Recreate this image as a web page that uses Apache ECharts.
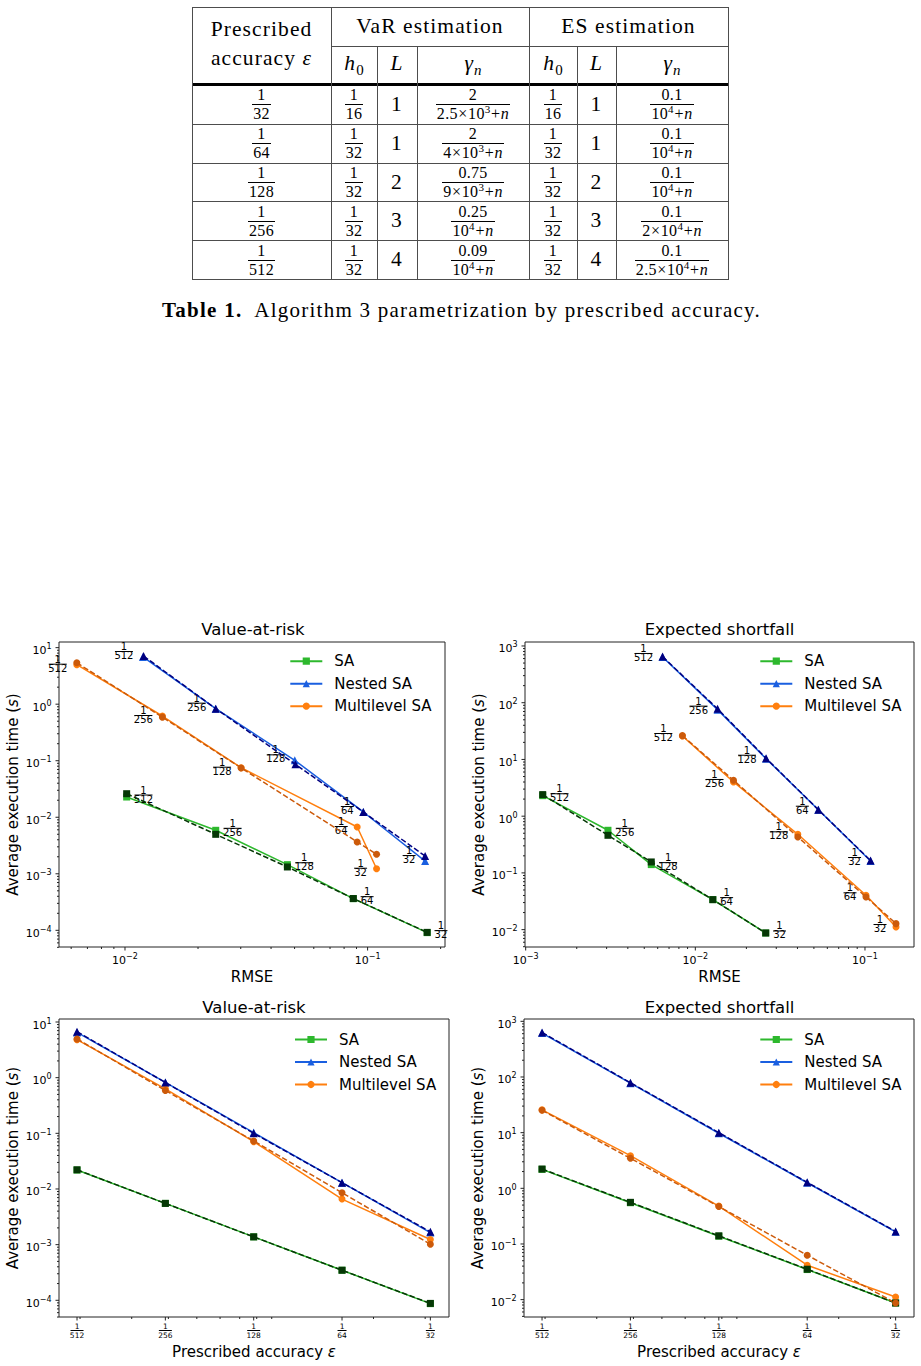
<!DOCTYPE html>
<html><head><meta charset="utf-8">
<script src="https://cdn.jsdelivr.net/npm/echarts@6/dist/echarts.min.js"></script>
<style>
html,body{margin:0;padding:0;background:#fff;width:921px;height:1366px;overflow:hidden}
#chart{position:absolute;left:0;top:0;width:921px;height:1366px}
#tbl{position:absolute;left:0;top:0;width:921px;height:340px;font-family:'Liberation Serif','Times New Roman',serif;color:#000}
.cell{position:absolute;display:flex;align-items:center;justify-content:center;text-align:center;font-size:21.5px;letter-spacing:1.1px;line-height:1}
.in{display:inline-block;text-align:center}
.ln{position:absolute;background:#4d4d4d}
.fr{display:inline-flex;flex-direction:column;align-items:center;font-size:16px;line-height:1;letter-spacing:0.3px;vertical-align:middle}
.fr .num{padding:0 1px 1px}
.fr .den{border-top:1px solid #000;padding:1px 1px 0}
.fr sup{font-size:11px;line-height:0;vertical-align:6px}
.op{margin:0 0.5px}
i{font-style:italic}
.sub{font-size:15px;position:relative;top:5px;letter-spacing:0}
#cap{position:absolute;left:162px;top:298px;font-size:21px;white-space:nowrap;letter-spacing:1.25px}
</style>
</head><body>
<div id="chart"></div>
<div id="tbl"></div>
<script>
// ---------------- TABLE DATA ----------------
const tableAccuracy = ['1/32','1/64','1/128','1/256','1/512'];
const varH0 = ['1/16','1/32','1/32','1/32','1/32'];
const varL = ['1','1','2','3','4'];
const varGammaNum = ['2','2','0.75','0.25','0.09'];
const varGammaDen = ['2.5×10^3+n','4×10^3+n','9×10^3+n','10^4+n','10^4+n'];
const esH0 = ['1/16','1/32','1/32','1/32','1/32'];
const esL = ['1','1','2','3','4'];
const esGammaNum = ['0.1','0.1','0.1','0.1','0.1'];
const esGammaDen = ['10^4+n','10^4+n','10^4+n','2×10^4+n','2.5×10^4+n'];

// ---------------- CHART DATA ----------------
const epsDen = [512, 256, 128, 64, 32];
const epsValues = [1/512, 1/256, 1/128, 1/64, 1/32];
const legendNames = ['SA', 'Nested SA', 'Multilevel SA'];

// Value-at-risk vs RMSE
const varRmseSA = [0.01016, 0.02366, 0.0467, 0.0873, 0.176];
const varTimeSA = [0.0228, 0.00588, 0.00145, 0.000363, 0.0000910];
const varTimeSADashed = [0.0261, 0.00499, 0.00132, 0.000365, 0.0000920];
const varRmseNested = [0.01186, 0.02366, 0.0501, 0.0960, 0.1726];
const varRmseNestedDashed = [0.01193, 0.02366, 0.0504, 0.0960, 0.1726];
const varTimeNested = [6.84, 0.834, 0.1016, 0.0124, 0.00168];
const varTimeNestedDashed = [7.1, 0.834, 0.0863, 0.0124, 0.00206];
const varRmseML = [0.00633, 0.01426, 0.0301, 0.0906, 0.1089];
const varTimeML = [5.0, 0.618, 0.0753, 0.00673, 0.00123];
const varTimeMLDashed = [5.4, 0.59, 0.0745, 0.00366, 0.00221];

// Expected shortfall vs RMSE
const esRmseSA = [0.00126, 0.003055, 0.0055, 0.01268, 0.0260];
const esTimeSA = [2.30, 0.564, 0.140, 0.0338, 0.00873];
const esTimeSADashed = [2.4, 0.460, 0.156, 0.0338, 0.00873];
const esRmseNested = [0.00641, 0.01352, 0.02612, 0.0531, 0.1079];
const esTimeNested = [640, 75.5, 10.3, 1.30, 0.162];
const esTimeNestedDashed = [650, 78, 10.5, 1.30, 0.165];
const esRmseML = [0.00839, 0.01679, 0.0402, 0.1014, 0.1524];
const esTimeML = [25.9, 4.01, 0.479, 0.0403, 0.01114];
const esTimeMLDashed = [26.3, 4.29, 0.430, 0.0377, 0.01276];

// Value-at-risk vs prescribed accuracy
const varEpsSA = [0.0219, 0.00551, 0.00138, 0.000347, 0.0000871];
const varEpsSADashed = [0.0221, 0.00551, 0.00138, 0.000347, 0.0000880];
const varEpsNested = [6.5, 0.82, 0.103, 0.013, 0.00165];
const varEpsNestedDashed = [6.7, 0.82, 0.100, 0.013, 0.00170];
const varEpsML = [4.81, 0.63, 0.071, 0.00659, 0.00124];
const varEpsMLDashed = [4.95, 0.589, 0.073, 0.00857, 0.00102];

// Expected shortfall vs prescribed accuracy
const esEpsSA = [2.19, 0.551, 0.138, 0.0347, 0.0087];
const esEpsSADashed = [2.22, 0.56, 0.140, 0.0352, 0.0087];
const esEpsNested = [616, 77.6, 9.75, 1.26, 0.165];
const esEpsNestedDashed = [630, 79, 10.0, 1.28, 0.168];
const esEpsML = [25.7, 3.86, 0.48, 0.0415, 0.01117];
const esEpsMLDashed = [25.2, 3.46, 0.47, 0.0628, 0.0087];

// ---------------- BUILD TABLE ----------------
(function buildTable() {
  const root = document.getElementById('tbl');
  const colX = [192, 331, 377, 417, 529, 577, 616, 728];
  const rowY = [7, 46, 84.5, 124, 162.5, 201, 240, 279];
  function line(x, y, w, h, color) {
    const d = document.createElement('div'); d.className = 'ln';
    d.style.left = x + 'px'; d.style.top = y + 'px'; d.style.width = w + 'px'; d.style.height = h + 'px';
    if (color) d.style.background = color;
    root.appendChild(d);
  }
  function cell(x0, x1, y0, y1, html) {
    const d = document.createElement('div'); d.className = 'cell';
    d.style.left = x0 + 'px'; d.style.top = y0 + 'px'; d.style.width = (x1 - x0) + 'px'; d.style.height = (y1 - y0) + 'px';
    d.innerHTML = '<span class="in">' + html + '</span>'; root.appendChild(d);
    return d;
  }
  function mathDen(s) {
    return s.replace(/\^(\d)/g, '<sup>$1</sup>').replace(/n/g, '<i>n</i>')
            .replace(/×/g, '<span class="op">×</span>').replace(/\+/g, '<span class="op">+</span>');
  }
  function frac(num, den) {
    return '<span class="fr"><span class="num">' + num + '</span><span class="den">' + den + '</span></span>';
  }
  function simpleFrac(s) { const p = s.split('/'); return frac(p[0], p[1]); }
  // lines
  const W = colX[7] - colX[0];
  line(colX[0], rowY[0], W + 1, 1);
  line(colX[0], rowY[7], W + 1, 1);
  line(colX[1], rowY[1], colX[7] - colX[1], 1);
  line(colX[0], rowY[2] - 1.5, W + 1, 3, '#000');
  for (let r = 3; r < 7; r++) line(colX[0], rowY[r], W, 1);
  line(colX[0], rowY[0], 1, rowY[7] - rowY[0]);
  line(colX[7], rowY[0], 1, rowY[7] - rowY[0] + 1);
  line(colX[1], rowY[0], 1, rowY[7] - rowY[0]);
  line(colX[4], rowY[0], 1, rowY[7] - rowY[0]);
  [2, 3, 5, 6].forEach(c => line(colX[c], rowY[1], 1, rowY[7] - rowY[1]));
  // header
  const h = cell(colX[0], colX[1], rowY[0] + 2, rowY[2] - 6, 'Prescribed<br>accuracy&nbsp;<i>ε</i>');
  h.style.lineHeight = '29px';
  cell(colX[1], colX[4], rowY[0], rowY[1], 'VaR estimation');
  cell(colX[4], colX[7], rowY[0], rowY[1], 'ES estimation');
  const sub = ['<i>h</i><span class="sub">0</span>', '<i>L</i>', '<i>γ</i><span class="sub"><i>n</i></span>'];
  [1, 2, 3, 4, 5, 6].forEach((c, k) => cell(colX[c], colX[c + 1], rowY[1] + 1, rowY[2] - 4, sub[k % 3]));
  // rows
  for (let r = 0; r < 5; r++) {
    const y0 = rowY[r + 2] + 1, y1 = rowY[r + 3];
    cell(colX[0], colX[1], y0, y1, simpleFrac(tableAccuracy[r]));
    cell(colX[1], colX[2], y0, y1, simpleFrac(varH0[r]));
    cell(colX[2], colX[3], y0, y1, varL[r]);
    cell(colX[3], colX[4], y0, y1, frac(varGammaNum[r], mathDen(varGammaDen[r])));
    cell(colX[4], colX[5], y0, y1, simpleFrac(esH0[r]));
    cell(colX[5], colX[6], y0, y1, esL[r]);
    cell(colX[6], colX[7], y0, y1, frac(esGammaNum[r], mathDen(esGammaDen[r])));
  }
  const cap = document.createElement('div'); cap.id = 'cap';
  cap.innerHTML = '<b>Table 1.</b>&nbsp; Algorithm 3 parametrization by prescribed accuracy.';
  root.appendChild(cap);
})();

// ---------------- CHART ----------------
const FONT = 'DejaVu Sans';
const C_SA = '#2db82d', C_SA_D = '#063806';
const C_NE = '#1a5fe0', C_NE_D = '#000080';
const C_ML = '#ff7f0e', C_ML_D = '#cc5a0a';

function fracText(den) {
  return '{n|1}\n{b' + String(den).length + '| }\n{d|' + den + '}';
}
function fracRich(fs, lhn, lhd, w2, w3) {
  const bar = w => ({ width: w, height: 1, lineHeight: 2, fontSize: 1, backgroundColor: '#000', align: 'center' });
  return {
    n: { fontSize: fs, lineHeight: lhn, fontFamily: FONT, color: '#000', align: 'center' },
    d: { fontSize: fs, lineHeight: lhd, fontFamily: FONT, color: '#000', align: 'center' },
    b2: bar(w2), b3: bar(w3)
  };
}
function annot(side, dy) {
  return {
    show: true, position: 'inside',
    offset: side === 'left' ? [-9.5, dy] : [7.3, dy],
    align: side === 'left' ? 'right' : 'left',
    verticalAlign: 'middle',
    formatter: p => fracText(epsDen[p.dataIndex]),
    rich: fracRich(10, 8, 6, 13, 18)
  };
}
function powLabel(v) {
  const e = Math.log10(v), r = Math.round(e);
  if (Math.abs(e - r) > 1e-6) return '';
  return '{b|10}{s|' + (r < 0 ? '\u2212' + (-r) : r) + '}';
}
function epsLabel(v) {
  const e = Math.log2(v), r = Math.round(e);
  if (Math.abs(e - r) > 1e-6) return '';
  return fracText(Math.round(1 / v));
}
const yLabelRich = { b: { fontSize: 11, fontFamily: FONT, color: '#000', padding: [6, 0, 0, 0] }, s: { fontSize: 8, fontFamily: FONT, color: '#000', padding: [0, 0, 2, 0] } };
const xLabelRich = { b: { fontSize: 11, fontFamily: FONT, color: '#000', padding: [4, 0, 0, 0] }, s: { fontSize: 8, fontFamily: FONT, color: '#000', padding: [0, 0, 3.4, 0] } };

const grids = [
  { left: 59, top: 642, width: 386, height: 305 },
  { left: 525, top: 642, width: 389, height: 305 },
  { left: 59, top: 1019, width: 390, height: 298 },
  { left: 524, top: 1019, width: 390, height: 298 }
];
const xExt = [[-2.272, -0.681], [-3.004, -0.711], [-9.204, -4.789], [-9.204, -4.792]];
const yExt = [[-4.295, 1.100], [-2.306, 3.070], [-4.300, 1.054], [-2.312, 3.042]];

function xAxis(i) {
  const base = i < 2 ? 10 : 2;
  const ax = {
    type: 'log', logBase: base, gridIndex: i,
    min: Math.pow(base, xExt[i][0]), max: Math.pow(base, xExt[i][1]),
    axisLine: { show: false }, axisTick: { show: false }, splitLine: { show: false }, minorSplitLine: { show: false },
    nameLocation: 'middle',
    nameTextStyle: { fontSize: 15, fontFamily: FONT, color: '#000', rich: { i: { fontStyle: 'italic', fontSize: 15, fontFamily: FONT } } }
  };
  if (i < 2) {
    ax.name = 'RMSE'; ax.nameGap = 22.5;
    ax.axisLabel = { margin: 4, formatter: powLabel, rich: xLabelRich, hideOverlap: false, showMinLabel: true, showMaxLabel: true };
  } else {
    ax.name = 'Prescribed accuracy {i|ε}'; ax.nameGap = 27.5;
    ax.axisLabel = { margin: 5.5, formatter: epsLabel, rich: fracRich(7.5, 7, 7, 9, 13), hideOverlap: false };
  }
  return ax;
}
function yAxis(i) {
  return {
    type: 'log', logBase: 10, gridIndex: i,
    min: Math.pow(10, yExt[i][0]), max: Math.pow(10, yExt[i][1]),
    axisLine: { show: false }, axisTick: { show: false }, splitLine: { show: false },
    axisLabel: { margin: 7.5, formatter: powLabel, rich: yLabelRich, hideOverlap: false },
    name: 'Average execution time ({i|s})', nameLocation: 'middle', nameGap: 38.5,
    nameTextStyle: { fontSize: 15, fontFamily: FONT, color: '#000', rich: { i: { fontStyle: 'italic', fontSize: 15, fontFamily: FONT } } }
  };
}

function zip(xs, ys) { return xs.map((x, k) => [x, ys[k]]); }
function lineSeries(i, name, xs, ys, color, symbol, size, dashed, label) {
  return {
    type: 'line', name: name, xAxisIndex: i, yAxisIndex: i,
    data: zip(xs, ys), symbol: symbol, symbolSize: size, showAllSymbol: true,
    lineStyle: { color: color, width: 1.5, type: dashed ? [5.5, 2.4] : 'solid' },
    itemStyle: { color: color, borderWidth: 0 },
    label: label || { show: false },
    emphasis: { disabled: true }, z: dashed ? 3 : 2, clip: true
  };
}

// tick values (axis decoration)
const majorPow = []; const minorPow = [];
for (let k = -6; k <= 4; k++) {
  majorPow.push(Math.pow(10, k));
  for (let m = 2; m <= 9; m++) minorPow.push(m * Math.pow(10, k));
}
function tickSeries(i, dim, values, len) {
  const xr = Math.pow(i < 2 ? 10 : 2, (xExt[i][0] + xExt[i][1]) / 2);
  const yr = Math.pow(10, (yExt[i][0] + yExt[i][1]) / 2);
  return {
    type: 'custom', xAxisIndex: i, yAxisIndex: i, silent: true, clip: false, z: 6,
    data: values.map(v => dim === 'y' ? [xr, v] : [v, yr]),
    renderItem: function (params, api) {
      const cs = params.coordSys;
      const pt = api.coord([api.value(0), api.value(1)]);
      if (dim === 'y') {
        const y = pt[1];
        if (y < cs.y - 0.6 || y > cs.y + cs.height + 0.6) return { type: 'group', children: [] };
        return { type: 'line', shape: { x1: cs.x, y1: y, x2: cs.x - len, y2: y }, style: { stroke: '#222', lineWidth: 1 } };
      } else {
        const x = pt[0];
        if (x < cs.x - 0.6 || x > cs.x + cs.width + 0.6) return { type: 'group', children: [] };
        const yb = cs.y + cs.height;
        return { type: 'line', shape: { x1: x, y1: yb, x2: x, y2: yb + len }, style: { stroke: '#222', lineWidth: 1 } };
      }
    }
  };
}

const series = [];
// panel 0
series.push(lineSeries(0, 'SA', varRmseSA, varTimeSA, C_SA, 'rect', 7, false, annot('right', -3)));
series.push(lineSeries(0, 'Nested SA', varRmseNested, varTimeNested, C_NE, 'triangle', 8, false, annot('left', -6.5)));
series.push(lineSeries(0, 'Multilevel SA', varRmseML, varTimeML, C_ML, 'circle', 7, false, annot('left', -1.5)));
series.push(lineSeries(0, 'SA (ref)', varRmseSA, varTimeSADashed, C_SA_D, 'rect', 7, true));
series.push(lineSeries(0, 'Nested SA (ref)', varRmseNestedDashed, varTimeNestedDashed, C_NE_D, 'triangle', 8, true));
series.push(lineSeries(0, 'Multilevel SA (ref)', varRmseML, varTimeMLDashed, C_ML_D, 'circle', 7, true));
// panel 1
series.push(lineSeries(1, 'SA', esRmseSA, esTimeSA, C_SA, 'rect', 7, false, annot('right', -3)));
series.push(lineSeries(1, 'Nested SA', esRmseNested, esTimeNested, C_NE, 'triangle', 8, false, annot('left', -4.5)));
series.push(lineSeries(1, 'Multilevel SA', esRmseML, esTimeML, C_ML, 'circle', 7, false, annot('left', -3.5)));
series.push(lineSeries(1, 'SA (ref)', esRmseSA, esTimeSADashed, C_SA_D, 'rect', 7, true));
series.push(lineSeries(1, 'Nested SA (ref)', esRmseNested, esTimeNestedDashed, C_NE_D, 'triangle', 8, true));
series.push(lineSeries(1, 'Multilevel SA (ref)', esRmseML, esTimeMLDashed, C_ML_D, 'circle', 7, true));
// panel 2
series.push(lineSeries(2, 'SA', epsValues, varEpsSA, C_SA, 'rect', 7, false));
series.push(lineSeries(2, 'Nested SA', epsValues, varEpsNested, C_NE, 'triangle', 8, false));
series.push(lineSeries(2, 'Multilevel SA', epsValues, varEpsML, C_ML, 'circle', 7, false));
series.push(lineSeries(2, 'SA (ref)', epsValues, varEpsSADashed, C_SA_D, 'rect', 7, true));
series.push(lineSeries(2, 'Nested SA (ref)', epsValues, varEpsNestedDashed, C_NE_D, 'triangle', 8, true));
series.push(lineSeries(2, 'Multilevel SA (ref)', epsValues, varEpsMLDashed, C_ML_D, 'circle', 7, true));
// panel 3
series.push(lineSeries(3, 'SA', epsValues, esEpsSA, C_SA, 'rect', 7, false));
series.push(lineSeries(3, 'Nested SA', epsValues, esEpsNested, C_NE, 'triangle', 8, false));
series.push(lineSeries(3, 'Multilevel SA', epsValues, esEpsML, C_ML, 'circle', 7, false));
series.push(lineSeries(3, 'SA (ref)', epsValues, esEpsSADashed, C_SA_D, 'rect', 7, true));
series.push(lineSeries(3, 'Nested SA (ref)', epsValues, esEpsNestedDashed, C_NE_D, 'triangle', 8, true));
series.push(lineSeries(3, 'Multilevel SA (ref)', epsValues, esEpsMLDashed, C_ML_D, 'circle', 7, true));
// ticks
for (let i = 0; i < 4; i++) {
  series.push(tickSeries(i, 'y', majorPow, 3.5));
  series.push(tickSeries(i, 'y', minorPow, 2));
  series.push(tickSeries(i, 'x', i < 2 ? majorPow : epsValues, 3.5));
  series.push(tickSeries(i, 'x', minorPow, 2));
}

function legendAt(left, top) {
  return {
    left: left, top: top, orient: 'vertical', itemWidth: 32, itemHeight: 9, itemGap: 7.5, padding: 0,
    data: legendNames, selectedMode: false,
    textStyle: { fontSize: 15, fontFamily: FONT, color: '#000', lineHeight: 15, padding: [0, 0, 0, 7] }
  };
}
function titleAt(text, x, y) {
  return { text: text, left: x, top: y - 8.5, textAlign: 'center', padding: 0,
    textStyle: { fontSize: 16.5, fontWeight: 'normal', fontFamily: FONT, color: '#000' } };
}

const option = {
  animation: false,
  backgroundColor: 'transparent',
  title: [
    titleAt('Value-at-risk', 253, 629), titleAt('Expected shortfall', 719.5, 629),
    titleAt('Value-at-risk', 254, 1007), titleAt('Expected shortfall', 719.5, 1007)
  ],
  legend: [legendAt(289.3, 653.7), legendAt(759.3, 653.7), legendAt(294, 1032), legendAt(759.3, 1032)],
  grid: grids.map(g => Object.assign({ show: true, borderColor: '#222', borderWidth: 1, backgroundColor: 'transparent', containLabel: false }, g)),
  xAxis: [0, 1, 2, 3].map(xAxis),
  yAxis: [0, 1, 2, 3].map(yAxis),
  series: series
};
const chart = echarts.init(document.getElementById('chart'), null, { renderer: 'svg', width: 921, height: 1366 });
chart.setOption(option);
</script>
</body></html>
